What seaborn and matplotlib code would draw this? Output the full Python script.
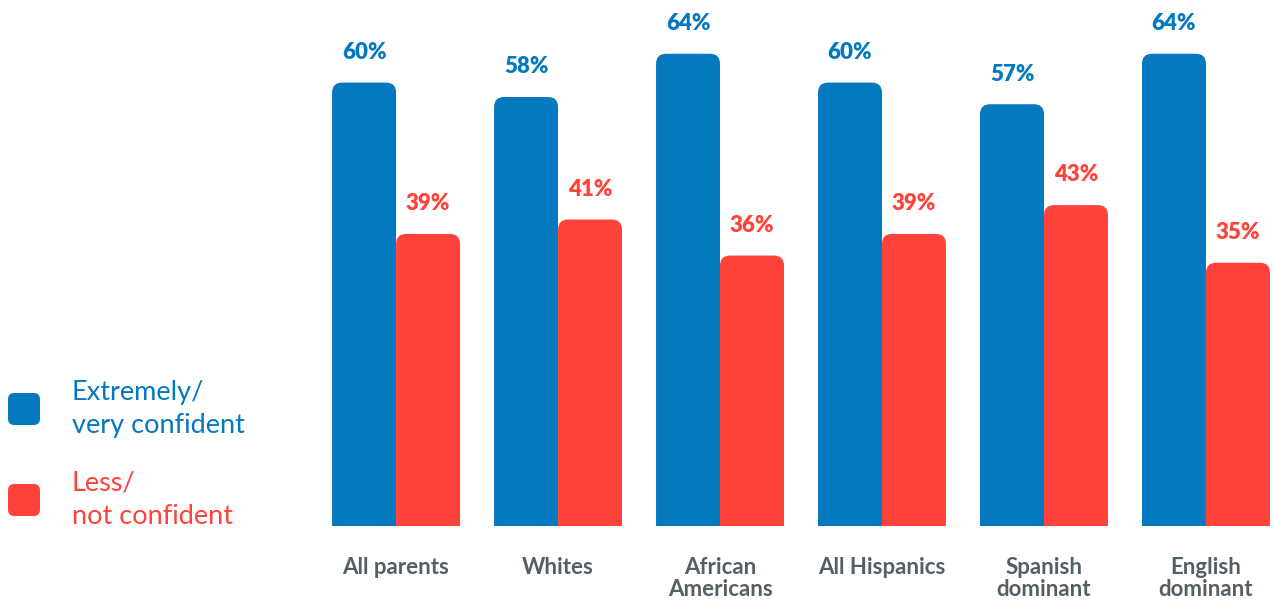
import pandas as pd
import matplotlib.pyplot as plt
import seaborn as sns
from matplotlib.patches import FancyBboxPatch

groups = ['All parents', 'Whites', 'African\nAmericans', 'All Hispanics',
          'Spanish\ndominant', 'English\ndominant']
confident = [60, 58, 64, 60, 57, 64]
less_confident = [39, 41, 36, 39, 43, 35]
series = ['Extremely/\nvery confident', 'Less/\nnot confident']
colors = ['#0479c0', '#ff433a']
label_grey = '#535f65'

df = pd.DataFrame({
    'group': groups * 2,
    'share': confident + less_confident,
    'series': [series[0]] * len(groups) + [series[1]] * len(groups),
})

sns.set_style('white')
plt.rcParams['font.family'] = ['Lato', 'DejaVu Sans']

fig = plt.figure(figsize=(12.74, 6.01), dpi=100)
ax = fig.add_axes([300 / 1274, 75 / 601, 974 / 1274, 526 / 601])

sns.barplot(data=df, x='group', y='share', hue='series', palette=colors,
            width=0.79, saturation=1, legend=False, ax=ax)

ax.set_xlim(-0.593, 5.42)
ax.set_ylim(-1.526, 71.46)
sns.despine(ax=ax, left=True, bottom=True)
ax.set_yticks([])
ax.set_xlabel('')
ax.set_ylabel('')
ax.tick_params(axis='x', length=0, pad=22)
for lab in ax.get_xticklabels():
    lab.set_fontsize(16)
    lab.set_fontweight('bold')
    lab.set_color(label_grey)
    lab.set_linespacing(1.1)

# swap the flat bars for ones with rounded tops (bottom corners clipped away)
fig.canvas.draw()
px_x = ax.transData.transform((1, 0))[0] - ax.transData.transform((0, 0))[0]
px_y = ax.transData.transform((0, 1))[1] - ax.transData.transform((0, 0))[1]
r_px = 10
r_x = r_px / px_x
r_y = r_px / px_y
aspect = px_x / px_y
y0 = ax.get_ylim()[0] - 3 * r_y

for container, col in zip(ax.containers, colors):
    for bar in container:
        x, w, h = bar.get_x(), bar.get_width(), bar.get_height()
        bar.set_visible(False)
        ax.add_patch(FancyBboxPatch((x, y0), w, h - y0,
                                    boxstyle=f'round,pad=0,rounding_size={r_x}',
                                    mutation_aspect=aspect, fc=col, ec='none'))
        ax.annotate(f'{h:.0f}%', (x + w / 2, h), xytext=(0, 17),
                    textcoords='offset points', ha='center', va='baseline',
                    fontsize=16, fontweight='heavy', color=col)

# legend on the left
for lbl, col, cy in zip(series, colors, [409, 500]):
    fig.patches.append(FancyBboxPatch((8 / 1274, 1 - (cy + 16) / 601), 32 / 1274, 32 / 601,
                                      boxstyle='round,pad=0,rounding_size=0.005',
                                      mutation_aspect=1274 / 601,
                                      transform=fig.transFigure, fc=col, ec='none'))
    fig.text(72 / 1274, 1 - cy / 601, lbl, fontsize=19.5, color=col,
             va='center', ha='left', linespacing=1.4)

fig.savefig('out.png', dpi=100)
